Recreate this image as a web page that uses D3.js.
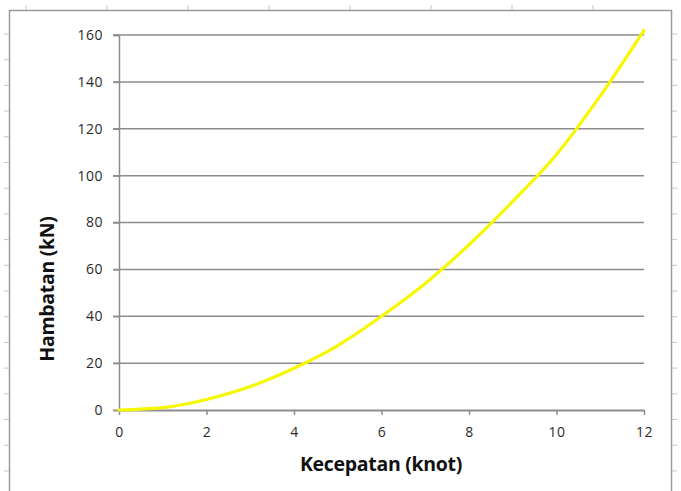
<!DOCTYPE html>
<html>
<head>
<meta charset="utf-8">
<script src="https://cdn.jsdelivr.net/npm/d3@7"></script>
<style>
  body { margin: 0; background: #fff; }
  svg { display: block; }
</style>
</head>
<body>
<div id="chart"></div>
<script>
// speed (knot) and resistance (kN)
const speeds = [0, 1, 2, 3, 4, 5, 6, 7, 8, 9, 10, 11, 12];
const resistance = [0, 1, 4.5, 10, 17.8, 27.5, 40, 54, 70.5, 89, 109, 134, 162];
const xTicks = [0, 2, 4, 6, 8, 10, 12];
const yTicks = [0, 20, 40, 60, 80, 100, 120, 140, 160];

const W = 681, H = 491;
const margin = { top: 35, right: 37, bottom: 81, left: 119 };
const width = W - margin.left - margin.right;
const height = H - margin.top - margin.bottom;

const svg = d3.select("#chart")
  .append("svg")
    .attr("width", W)
    .attr("height", H);

// outer chart frame (spreadsheet look)
svg.append("rect")
  .attr("x", 9.5).attr("y", 10.5)
  .attr("width", 662).attr("height", 500)
  .attr("fill", "none")
  .attr("stroke", "#9a9a9a")
  .attr("stroke-width", 1.5);

// faint cell marks outside frame
const frameMarks = svg.append("g").attr("stroke", "#c4c4c4").attr("stroke-width", 1);
d3.range(34, 491, 25.7).forEach(y => {
  frameMarks.append("line").attr("x1", 4).attr("x2", 9).attr("y1", y).attr("y2", y);
  frameMarks.append("line").attr("x1", 672).attr("x2", 677).attr("y1", y).attr("y2", y);
});
d3.range(26, 660, 81).forEach(x => {
  frameMarks.append("line").attr("x1", x).attr("x2", x).attr("y1", 5).attr("y2", 10);
});

const g = svg.append("g")
  .attr("transform", `translate(${margin.left},${margin.top})`);

const x = d3.scaleLinear().domain([0, 12]).range([0, width]);
const y = d3.scaleLinear().domain([0, 160]).range([height, 0]);

// gridlines
g.append("g")
  .selectAll("line")
  .data(yTicks.filter(d => d > 0))
  .enter()
  .append("line")
    .attr("x1", -6).attr("x2", width)
    .attr("y1", d => y(d)).attr("y2", d => y(d))
    .attr("stroke", "#8c8c8c")
    .attr("stroke-width", 1.5);

// y axis
const yAxis = g.append("g")
  .call(d3.axisLeft(y).tickValues(yTicks).tickSize(6).tickPadding(10));
yAxis.select(".domain").attr("stroke", "#8c8c8c").attr("stroke-width", 1.5);
yAxis.selectAll(".tick line").attr("stroke", "#8c8c8c").attr("stroke-width", 1.5);
yAxis.selectAll("text")
  .style("font-family", "'Open Sans', sans-serif")
  .style("font-size", "14px")
  .style("letter-spacing", "0.5px")
  .attr("fill", "#2a2a2a");

// x axis
const xAxis = g.append("g")
  .attr("transform", `translate(0,${height})`)
  .call(d3.axisBottom(x).tickValues(xTicks).tickSize(5).tickSizeOuter(0).tickPadding(12));
xAxis.select(".domain").attr("stroke", "#8c8c8c").attr("stroke-width", 2);
xAxis.selectAll(".tick line").attr("stroke", "#8c8c8c").attr("stroke-width", 1.5);
xAxis.selectAll("text")
  .style("font-family", "'Open Sans', sans-serif")
  .style("font-size", "14px")
  .style("letter-spacing", "0.5px")
  .attr("fill", "#2a2a2a");

// curve
const line = d3.line()
  .x((d, i) => x(speeds[i]))
  .y(d => y(d))
  .curve(d3.curveMonotoneX);

g.append("path")
  .datum(resistance)
  .attr("d", line)
  .attr("fill", "none")
  .attr("stroke", "#f7f700")
  .attr("stroke-width", 3.2)
  .attr("stroke-linecap", "round");

// axis titles
svg.append("text")
  .attr("x", 381)
  .attr("y", 471)
  .attr("text-anchor", "middle")
  .style("font-family", "'Open Sans', sans-serif")
  .style("font-weight", "bold")
  .style("font-size", "19.5px")
  .style("letter-spacing", "-0.3px")
  .attr("fill", "#111")
  .text("Kecepatan (knot)");

svg.append("text")
  .attr("transform", "translate(54,289) rotate(-90)")
  .attr("text-anchor", "middle")
  .style("font-family", "'Open Sans', sans-serif")
  .style("font-weight", "bold")
  .style("font-size", "19.5px")
  .style("letter-spacing", "-0.3px")
  .attr("fill", "#111")
  .text("Hambatan (kN)");
</script>
</body>
</html>
